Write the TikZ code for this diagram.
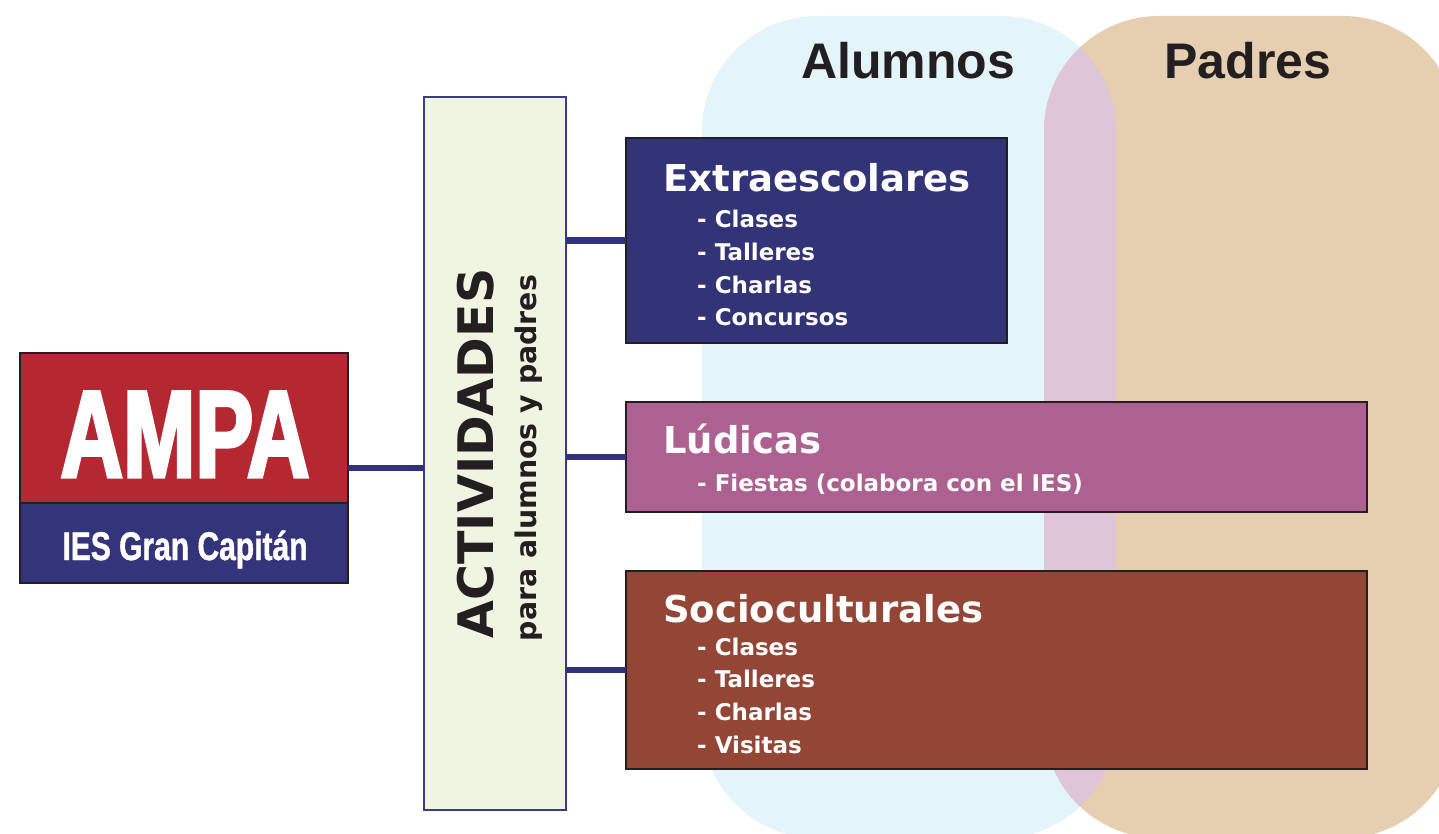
\documentclass[tikz,border=0pt]{standalone}
\usepackage{fontspec}
\setmainfont{DejaVu Sans}
\newfontfamily\libsans{Liberation Sans}
\newfontfamily\ampafont{Liberation Sans}[FakeStretch=0.70,FakeBold=2.5]
\newfontfamily\iesfont{Liberation Sans}[FakeStretch=0.75,FakeBold=1]
\usetikzlibrary{fit}
\definecolor{alumnosbg}{HTML}{E3F4FB}
\definecolor{padresbg}{HTML}{E5CFB0}
\definecolor{overlapbg}{HTML}{DEC6D8}
\definecolor{extc}{HTML}{333378}
\definecolor{ludc}{HTML}{AD6190}
\definecolor{socc}{HTML}{934536}
\definecolor{ampared}{HTML}{B52832}
\definecolor{ampablue}{HTML}{33347A}
\definecolor{actfill}{HTML}{F0F5E1}
\definecolor{actborder}{HTML}{3B3B8E}
\definecolor{connc}{HTML}{32327A}
\definecolor{darkline}{HTML}{231F20}
\definecolor{labeltext}{HTML}{231F20}
\tikzset{
  box/.style={draw=darkline, line width=1.5pt, inner sep=0pt, outer sep=0pt},
  conn/.style={draw=connc, line width=6.5pt},
  title/.style={anchor=base west, inner sep=0pt, text=white, font=\fontsize{37}{37}\selectfont\bfseries},
  item/.style={anchor=base west, inner sep=0pt, text=white, font=\fontsize{23}{23}\selectfont\bfseries},
  grouplabel/.style={anchor=base, inner sep=0pt, text=labeltext, font=\libsans\fontsize{50}{50}\selectfont\bfseries}
}
\begin{document}
\begin{tikzpicture}[x=1pt,y=-1pt]
\useasboundingbox (0,0) rectangle (1439,834);
% background groups
\begin{scope}
\clip (0,0) rectangle (1439,834);
\fill[alumnosbg, rounded corners=115] (702,16) rectangle (1116,838);
\fill[padresbg, rounded corners=115] (1044,16) rectangle (1458,838);
\begin{scope}
\clip[rounded corners=115] (702,16) rectangle (1116,838);
\fill[overlapbg, rounded corners=115] (1044,16) rectangle (1458,838);
\end{scope}
\end{scope}
\node[grouplabel] (alumnos) at (908,79) {Alumnos};
\node[grouplabel] (padres) at (1248,79) {Padres};

% AMPA
\node[box, fill=ampared, minimum width=328, minimum height=150] (ampatop) at (184,428) {};
\node[box, fill=ampablue, minimum width=328, minimum height=80] (ampabot) at (184,543) {};
\node[fit=(ampatop)(ampabot), inner sep=0pt, outer sep=0pt] (ampa) {};
\node[anchor=base, inner sep=0pt, text=white, font=\ampafont\fontsize{124}{124}\selectfont\bfseries] (ampatxt) at (185,477) {AMPA};
\node[anchor=base, inner sep=0pt, text=white, font=\iesfont\fontsize{40}{40}\selectfont\bfseries] (iestxt) at (185,560) {IES Gran Capitán};

% Actividades
\node[box, draw=actborder, fill=actfill, minimum width=142, minimum height=713] (act) at (495,453.5) {};
\node[anchor=base, inner sep=0pt, rotate=90, text=labeltext, font=\fontsize{49}{49}\selectfont\bfseries] (acttxt) at (493,453.5) {ACTIVIDADES};
\node[anchor=base, inner sep=0pt, rotate=90, text=labeltext, font=\fontsize{28.4}{28.4}\selectfont\bfseries] (actsub) at (536,458) {para alumnos y padres};

% category boxes
\node[box, fill=extc, minimum width=381, minimum height=205] (ext) at (816.5,240.5) {};
\node[box, fill=ludc, minimum width=741, minimum height=110] (lud) at (996.5,457) {};
\node[box, fill=socc, minimum width=741, minimum height=198] (soc) at (996.5,670) {};

% connectors
\draw[conn] (ampa.east) -- (act.west |- ampa.east);
\draw[conn] (act.east |- ext.west) -- (ext.west);
\draw[conn] (act.east |- lud.west) -- (lud.west);
\draw[conn] (act.east |- soc.west) -- (soc.west);

% texts
\node[title] (exttitle) at (663,192) {Extraescolares};
\node[item] (ext1) at (697,228) {- Clases};
\node[item] (ext2) at (697,260) {- Talleres};
\node[item] (ext3) at (697,293) {- Charlas};
\node[item] (ext4) at (697,325) {- Concursos};

\node[title] (ludtitle) at (663,453) {Lúdicas};
\node[item] (lud1) at (697,491) {- Fiestas (colabora con el IES)};

\node[title] (soctitle) at (663,622) {Socioculturales};
\node[item] (soc1) at (697,655) {- Clases};
\node[item] (soc2) at (697,687) {- Talleres};
\node[item] (soc3) at (697,720) {- Charlas};
\node[item] (soc4) at (697,753) {- Visitas};
\end{tikzpicture}
\end{document}
